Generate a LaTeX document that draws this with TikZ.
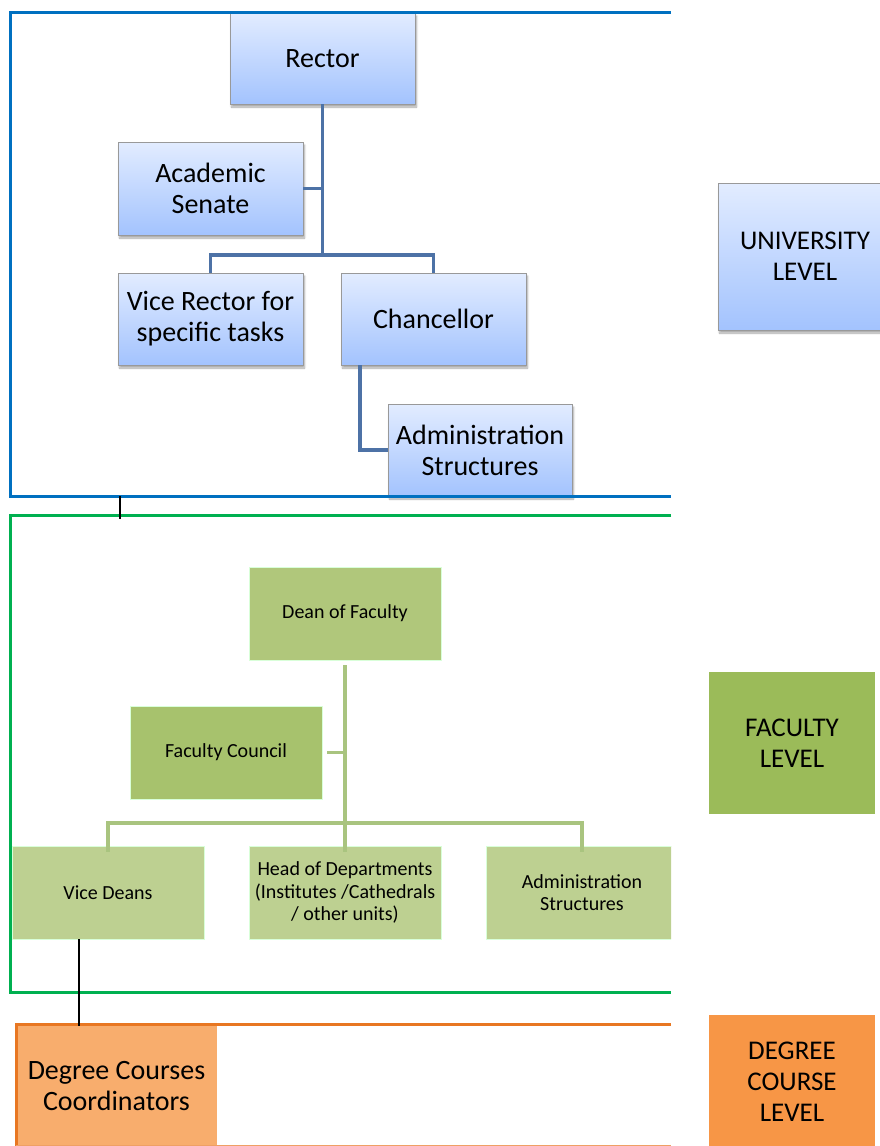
\documentclass[tikz,border=0pt]{standalone}
\usepackage{fontspec}
\setmainfont{Carlito}
\usetikzlibrary{shadows.blur}
\definecolor{uniframe}{HTML}{0070C0}
\definecolor{facframe}{HTML}{00B050}
\definecolor{degframe}{HTML}{E87722}
\definecolor{unitop}{HTML}{E2ECFF}
\definecolor{unibot}{HTML}{A3C3FE}
\definecolor{uniline}{HTML}{4D72A6}
\definecolor{facline}{HTML}{A9C47F}
\definecolor{deanfill}{HTML}{B0C77B}
\definecolor{councilfill}{HTML}{A7C26D}
\definecolor{subfill}{HTML}{BDD091}
\definecolor{faclevel}{HTML}{9BBB59}
\definecolor{deglevel}{HTML}{F79646}
\definecolor{coordfill}{HTML}{F8AD6D}
\tikzset{
  unibox/.style={draw=gray!80, line width=0.6pt, top color=unitop, bottom color=unibot,
    align=center, inner sep=0pt, font=\fontsize{28}{31}\selectfont,
    blur shadow={shadow xshift=1.5pt, shadow yshift=-3pt, shadow blur steps=6, shadow opacity=35}},
  facbox/.style={draw=white!85!green, line width=0.6pt, align=center, inner sep=0pt,
    minimum width=192pt, minimum height=93pt, font=\fontsize{20}{22.5}\selectfont},
  levelfont/.style={font=\fontsize{27}{31}\selectfont},
  uniconn/.style={draw=uniline, line width=3.6pt},
  facconn/.style={draw=facline, line width=3.6pt},
  blackconn/.style={draw=black, line width=2.8pt},
  frameline/.style={line width=3pt}
}
\begin{document}
\begin{tikzpicture}[x=1pt, y=-1pt]
\useasboundingbox (0,0) rectangle (879,1146);

% ---------- level labels on the right ----------
\node[unibox, levelfont, minimum width=174pt, minimum height=147pt] (ulevel) at (805,256.5) {UNIVERSITY\\LEVEL};
\node[fill=faclevel, levelfont, align=center, minimum width=166pt, minimum height=142pt, inner sep=0pt] (flevel) at (792,743) {FACULTY\\LEVEL};
\node[fill=deglevel, levelfont, align=center, minimum width=166pt, minimum height=134pt, inner sep=0pt] (dlevel) at (792,1082) {DEGREE\\COURSE\\LEVEL};

\begin{scope}
\clip (0,0) rectangle (671,1146);

% ---------- university level ----------
\node[unibox, minimum width=185pt, minimum height=91pt] (rector) at (322.5,58.5) {Rector};
\node[unibox, minimum width=185pt, minimum height=93pt] (senate) at (210.5,188.5) {Academic\\Senate};
\node[unibox, minimum width=185pt, minimum height=92pt] (vrector) at (210.5,319) {Vice Rector for\\specific tasks};
\node[unibox, minimum width=185pt, minimum height=92pt] (chanc) at (433.5,319) {Chancellor};
\node[unibox, minimum width=184pt, minimum height=92pt] (uadmin) at (480,450) {Administration\\Structures};

\coordinate (ubranch) at (322.5,255);
\draw[uniconn] (rector.south) -- (ubranch);
\draw[uniconn] (vrector.north) |- (ubranch) -| (chanc.north);
\draw[uniconn] (senate.east) -- (senate.east -| rector.south);
\draw[uniconn] ([xshift=-73.5pt]chanc.south) |- (uadmin.west);

% ---------- faculty level ----------
\node[facbox, fill=deanfill] (dean) at (345,613.5) {Dean of Faculty};
\node[facbox, fill=councilfill] (council) at (226,752.5) {Faculty Council};
\node[facbox, fill=subfill] (vdeans) at (108,892.5) {Vice Deans};
\node[facbox, fill=subfill] (heads) at (345,892.5) {Head of Departments\\(Institutes /Cathedrals\\/ other units)};
\node[facbox, fill=subfill] (fadmin) at (582,892.5) {Administration\\Structures};

\coordinate (fbranch) at (345,823);
\draw[facconn] ([yshift=-5pt]dean.south) -- ([yshift=-6pt]heads.north);
\draw[facconn] ([yshift=-6pt]vdeans.north) |- (fbranch) -| ([yshift=-6pt]fadmin.north);
\draw[facconn] ([xshift=5pt]council.east) -- (council.east -| dean.south);

% ---------- degree course level ----------
\node[fill=coordfill, align=center, inner sep=0pt, minimum width=201pt, minimum height=120pt,
      font=\fontsize{28}{31}\selectfont] (coord) at (116.5,1086) {Degree Courses\\Coordinators};

% ---------- level frames ----------
\draw[frameline, draw=uniframe] (671,12) -- (10,12) -- (10,496) -- (671,496);
\draw[frameline, draw=facframe] (671,515) -- (10,515) -- (10,992) -- (671,992);
\draw[frameline, draw=degframe] (671,1024) -- (16,1024) -- (16,1146);
\draw[line width=1pt, draw=degframe!70] (16,1145.5) -- (671,1145.5);
\end{scope}

% ---------- links between levels ----------
\coordinate (utick) at (120,496);
\coordinate (ftick) at (120,519);
\draw[blackconn] (utick) -- (ftick);
\draw[blackconn] ([xshift=-29pt]vdeans.south) -- ([xshift=-29pt]vdeans.south |- coord.north);
\end{tikzpicture}
\end{document}
